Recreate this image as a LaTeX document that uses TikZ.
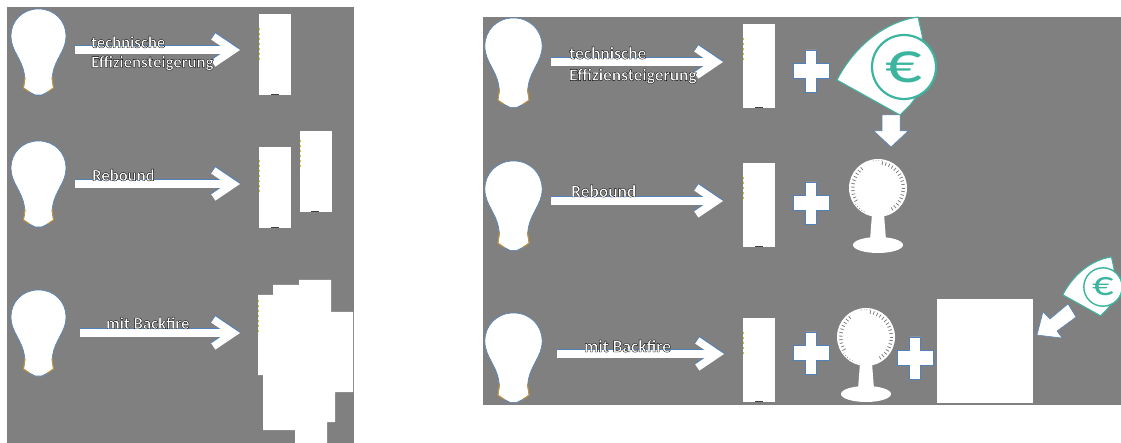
\documentclass[tikz,border=0pt]{standalone}
\usepackage{fontspec}
\setmainfont{Carlito}
\usetikzlibrary{arrows.meta}
\definecolor{panelgrey}{HTML}{808080}
\definecolor{edgeblue}{HTML}{4F81BD}
\definecolor{baseorange}{HTML}{C8922E}
\definecolor{speck}{HTML}{C8C820}
\definecolor{euroteal}{HTML}{3CB5A0}
\newcommand{\shadowtext}[1]{\color{white}\special{pdf:code 2 Tr 0.35 w 0 0 0 RG}#1\special{pdf:code 0 Tr}}
\tikzset{
  x=1pt,y=-1pt,
  panel/.style={fill=panelgrey,draw=none},
  device/.style={draw=none,fill=white,inner sep=0pt,minimum width=32pt},
  flowtip/.style={-{Straight Barb[length=20pt,width=27pt,line width=7.5pt]},line width=7.5pt},
  flowlabel/.style={anchor=west,inner sep=0pt,font=\bfseries\fontsize{16.7}{18}\selectfont},
  flowlabelr/.style={flowlabel,font=\bfseries\fontsize{17.4}{18}\selectfont},
  blockarrow/.style={fill=white,draw=edgeblue,line width=.5pt,line join=miter},
  tick/.style={draw=panelgrey,line width=.8pt},
  basemark/.style={draw=black!75,line width=.8pt},
  pics/bulb/.style={code={
    \path[fill=white,draw=edgeblue,line width=.6pt]
      (0,0) .. controls (16,0) and (27.5,12) .. (27.5,27)
      .. controls (27.5,42) and (16,50) .. (14,66)
      -- (13.5,70) -- (15,79) -- (9,83) -- (3,86) -- (-3,86) -- (-9,83) -- (-15,79)
      -- (-13.5,70) -- (-14,66)
      .. controls (-16,50) and (-27.5,42) .. (-27.5,27)
      .. controls (-27.5,12) and (-16,0) .. (0,0) -- cycle;
    \draw[baseorange,line width=.9pt] (13.5,68) -- (15,79) -- (9,83);
    \draw[baseorange,line width=.9pt] (-13.5,68) -- (-15,79) -- (-9,83);
  }},
  pics/fan/.style={code={
    \fill[white] (-6,26) -- (-8,52) -- (8,52) -- (6,26) -- cycle;
    \fill[white] (0,57) ellipse [x radius=25,y radius=8];
    \fill[white] (0,0) circle [radius=29];
    \foreach \a in {-80,-72,...,60,150,158,...,230}{
      \draw[tick] (\a:23.5) -- (\a:27);
    }
    \foreach \a in {-100,-94,...,-80,120,126,...,150}{
      \draw[tick,line width=.5pt] (\a:27) -- (\a:28);
    }
  }},
  pics/eurowedge/.style 2 args={code={
    \path[fill=white,draw=euroteal,line width=1pt]
      (-67,13) .. controls (-50,-20) and (-20,-45) .. (14,-50)
      -- (18,-32) -- (20,20) -- (6,38) -- (-4,48) -- cycle;
    \draw[euroteal,fill=white,line width=#2] (0,0) circle [radius=32];
    \node[inner sep=0pt,text=euroteal,font=\fontsize{#1}{#1}\selectfont] (eurosign) at (0,0) {\scalebox{1.25}[1]{€}};
  }},
}
\newcommand{\flow}[2]{%
  \draw[flowtip,edgeblue] ([yshift=1.3pt]#1) -- ([yshift=1.3pt]#2);
  \draw[flowtip,white] (#1) -- (#2);}
\newcommand{\plusat}[2]{%
  \path[blockarrow,shift={(#1,#2)}] (-5.5,-21) -- (5.5,-21) -- (5.5,-7.5) -- (18,-7.5) -- (18,7.5) -- (5.5,7.5) -- (5.5,21) -- (-5.5,21) -- (-5.5,7.5) -- (-18,7.5) -- (-18,-7.5) -- (-5.5,-7.5) -- cycle;}
\newcommand{\specks}[3]{%
  \draw[speck,line width=.7pt,dash pattern=on 2pt off 3pt] (#1,#2) -- (#1,#3);}
\begin{document}
\begin{tikzpicture}
\useasboundingbox (0,0) rectangle (1121,443);
\fill[white] (0,0) rectangle (1121,443);
\path[panel] (7,7) rectangle (354,443);
\path[panel] (483,17) rectangle (1121,405);

% left panel bulbs
\pic at (38.5,9) {bulb};
\pic at (38.5,141) {bulb};
\pic at (38.5,290) {bulb};
% left devices
\node[device,minimum height=81pt] (la) at (275,54.5) {};
\node[device,minimum height=81pt] (lb) at (275,187.5) {};
\node[device,minimum height=81pt] (lc) at (315.5,171.5) {};
\fill[white] (258,295) -- (273,295) -- (273,285) -- (299,285) -- (299,280) -- (331,280) -- (331,312) -- (353,312)
  -- (353,392) -- (335,392) -- (335,422) -- (327,422) -- (327,443) -- (295,443) -- (295,430) -- (263,430) -- (263,375) -- (258,375) -- cycle;
\specks{259}{28}{60}
\specks{259}{160}{192}
\specks{300}{140}{170}
\specks{258}{300}{335}
\draw[basemark] (271,94.7) -- (279,94.7);
\draw[basemark] (271,227.7) -- (279,227.7);
\draw[basemark] (311,211.7) -- (319,211.7);

% left arrows
\coordinate (las) at (75,50); \coordinate (lae) at (240,50);
\coordinate (lbs) at (75,184); \coordinate (lbe) at (240,184);
\coordinate (lcs) at (80,333); \coordinate (lce) at (240,333);
\flow{las}{lae}
\flow{lbs}{lbe}
\flow{lcs}{lce}
\node[flowlabel] (lt1) at (91,42) {\shadowtext{technische}};
\node[flowlabel] (lt2) at (91,63) {\shadowtext{Effiziensteigerung}};
\node[flowlabel] (lt3) at (92,175) {\shadowtext{Rebound}};
\node[flowlabel] (lt4) at (106,323) {\shadowtext{mit Backfire}};

% right panel bulbs
\pic[scale=1.04] at (513.5,18) {bulb};
\pic[scale=1.04] at (513.5,161) {bulb};
\pic[scale=1.04] at (513.5,313) {bulb};
% right devices
\node[device,minimum height=84pt] (ra) at (759,66) {};
\node[device,minimum height=84pt] (rb) at (759,205) {};
\node[device,minimum height=84pt] (rc) at (759,360) {};
\node[device,minimum width=96pt,minimum height=104pt] (rd) at (985,351) {};
\specks{743}{38}{62}
\specks{743}{177}{200}
\specks{743}{332}{356}
\draw[basemark] (755,107.7) -- (763,107.7);
\draw[basemark] (755,246.7) -- (763,246.7);
\draw[basemark] (755,401.7) -- (763,401.7);

% right arrows
\coordinate (ras) at (551,62); \coordinate (rae) at (723,62);
\coordinate (rbs) at (551,201); \coordinate (rbe) at (723,201);
\coordinate (rcs) at (557,354); \coordinate (rce) at (724,354);
\flow{ras}{rae}
\flow{rbs}{rbe}
\flow{rcs}{rce}
\node[flowlabelr] (rt1) at (569,53) {\shadowtext{technische}};
\node[flowlabelr] (rt2) at (569,76) {\shadowtext{Effiziensteigerung}};
\node[flowlabelr] (rt3) at (571,191) {\shadowtext{Rebound}};
\node[flowlabelr] (rt4) at (584,346) {\shadowtext{mit Backfire}};

\plusat{811}{71}
\plusat{811}{203}
\plusat{811}{353}
\plusat{915}{358}

% euro wedges and fans
\begin{scope}
\clip (483,17) rectangle (1121,405);
\pic at (904,67) {eurowedge={58}{2.2pt}};
\pic[scale=.6] at (1103,287) {eurowedge={34}{1.4pt}};
\end{scope}
\path[blockarrow] (882,115) -- (900,115) -- (900,131) -- (908,131) -- (891,147) -- (874,131) -- (882,131) -- cycle;
\path[blockarrow] (1037,335) -- (1043,312) -- (1050,319) -- (1068,304) -- (1076,317) -- (1057,331) -- (1062,338) -- cycle;
\pic at (878,188) {fan};
\pic at (866,337) {fan};
\end{tikzpicture}
\end{document}
